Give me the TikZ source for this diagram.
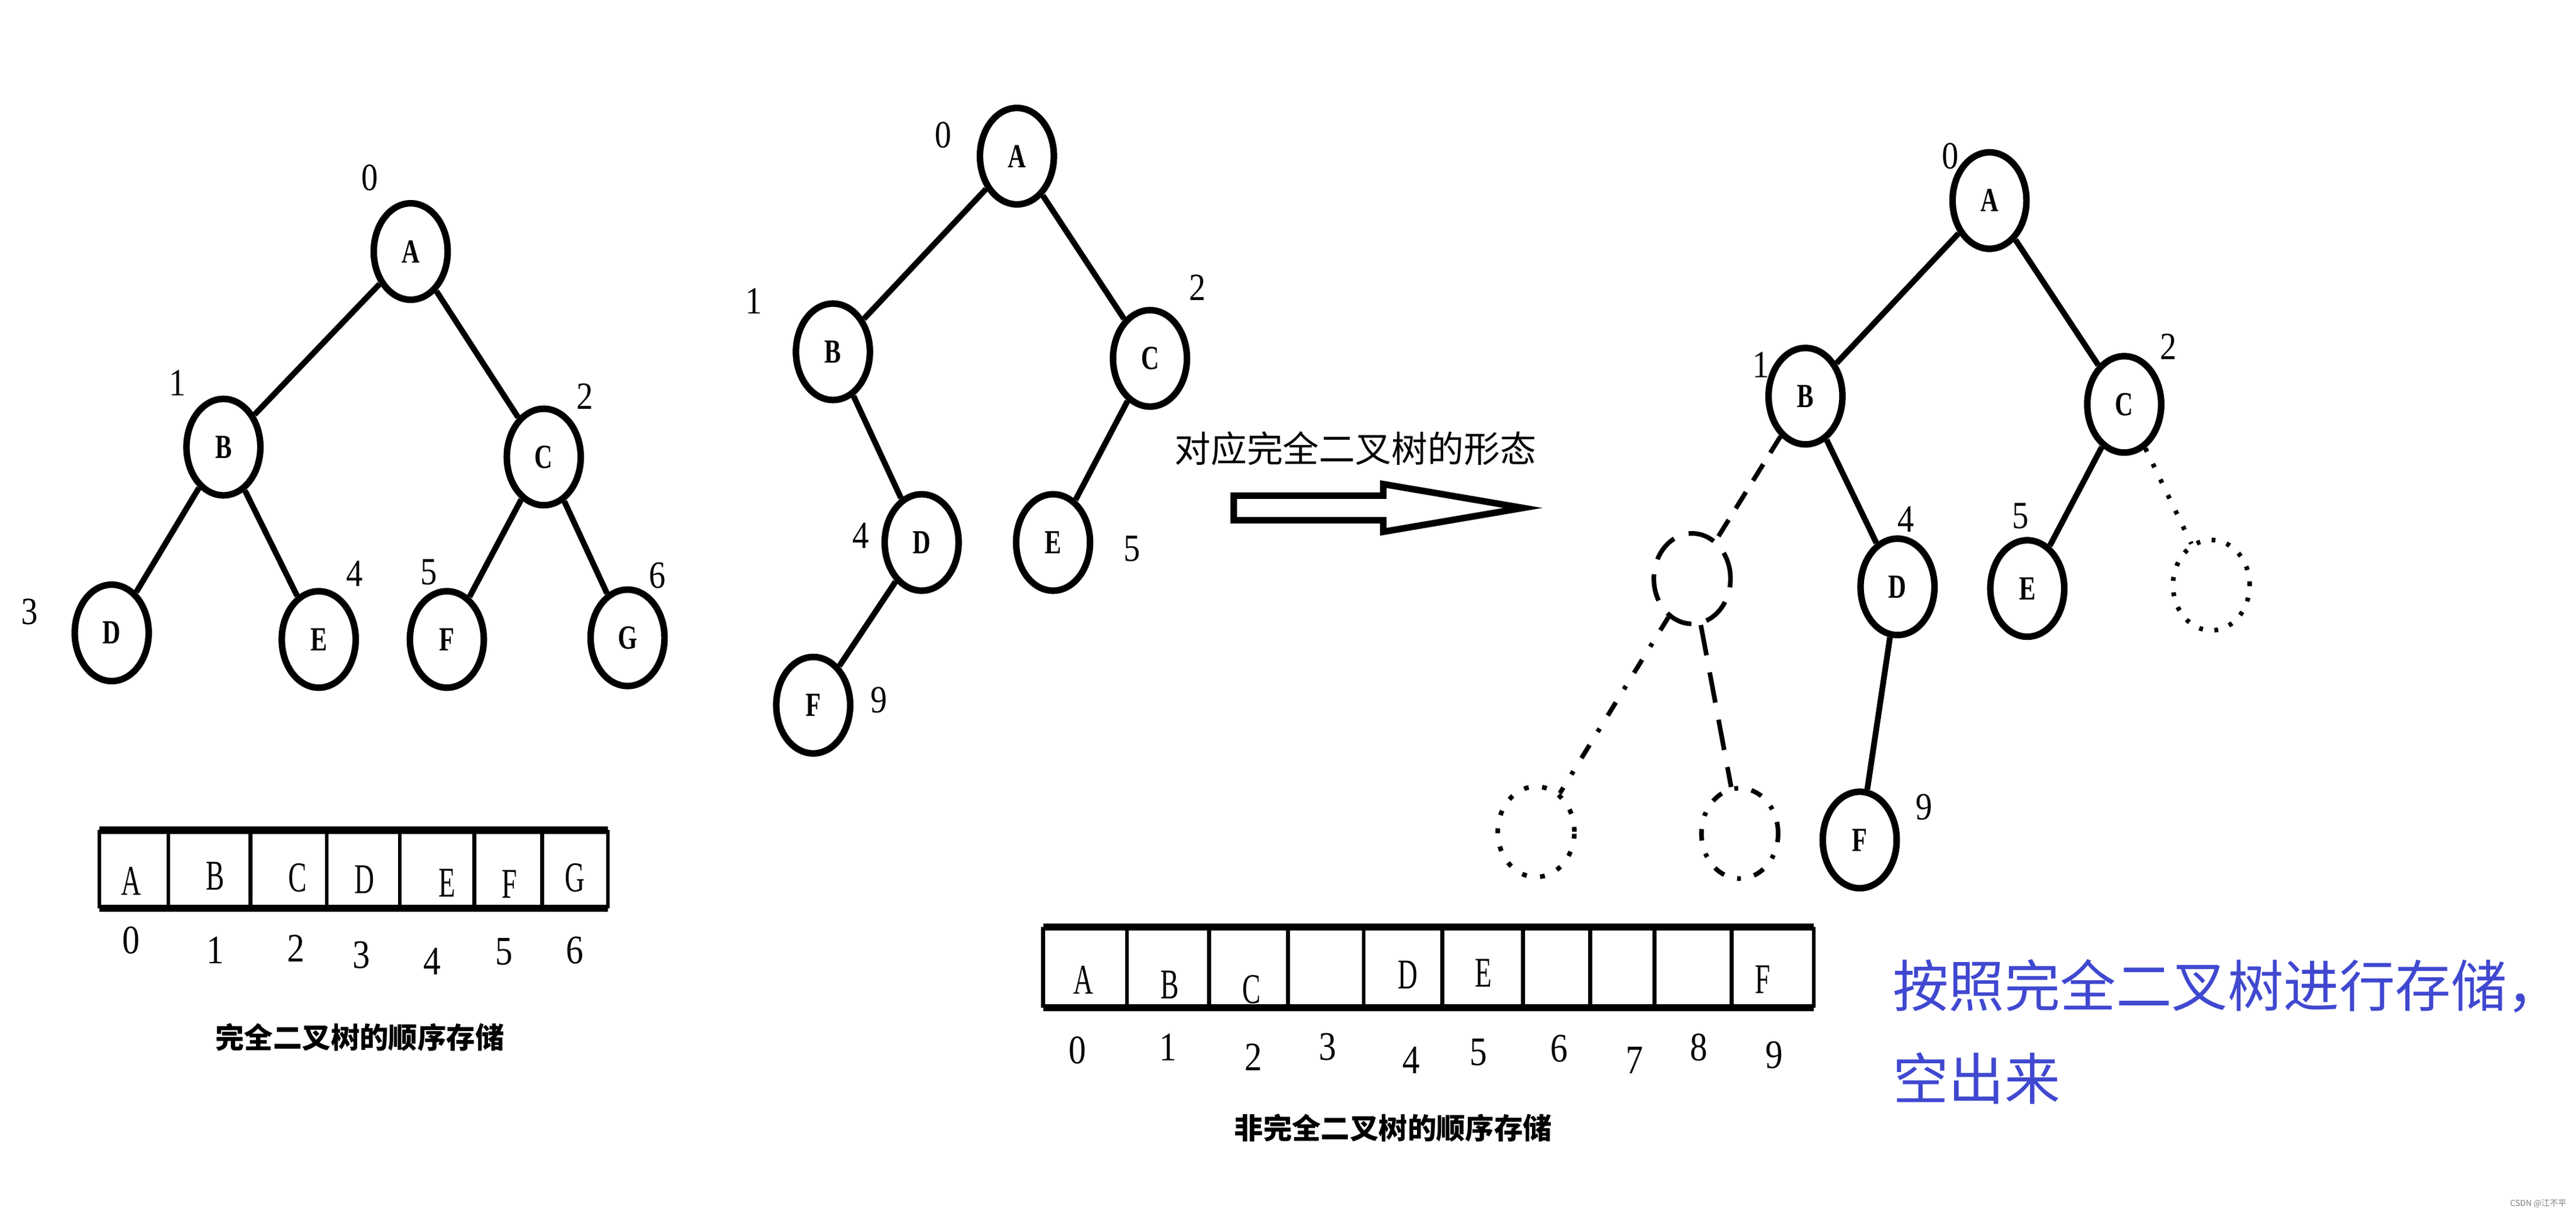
\documentclass[tikz,border=0pt]{standalone}
\usepackage{fontspec}
\usetikzlibrary{shapes.geometric}
\setmainfont{Liberation Serif}
\newfontfamily\letterfont[FakeStretch=0.74]{Liberation Serif}
\newfontfamily\cellfont[FakeStretch=0.65]{Liberation Serif}
\newfontfamily\digitfont[FakeStretch=0.86]{Liberation Serif}
\newfontfamily\cjk{Noto Sans CJK SC}
\definecolor{noteblue}{RGB}{64,72,208}

\begin{document}
\begin{tikzpicture}[x=0.3mm, y=-0.3mm,
    vtx/.style={ellipse, draw, line width=3.4pt, minimum width=13.5mm, minimum height=17.6mm, inner sep=0pt, font=\letterfont\bfseries\fontsize{17.5}{20}\selectfont},
    ghost/.style={ellipse, draw, line width=2.4pt, minimum width=14mm, minimum height=16.5mm, inner sep=0pt},
    idx/.style={inner sep=0pt, font=\digitfont\fontsize{20}{22}\selectfont},
    cellchar/.style={inner sep=0pt, font=\cellfont\fontsize{22}{24}\selectfont},
    celldigit/.style={inner sep=0pt, font=\digitfont\fontsize{21}{24}\selectfont},
    link/.style={line width=3pt},
    caption/.style={inner sep=0pt, font=\cjk\bfseries\fontsize{15}{16}\selectfont},
    note/.style={inner sep=0pt, anchor=west, text=noteblue, font=\cjk\fontsize{29}{30}\selectfont}]
  \path[use as bounding box, fill=white] (0,0) rectangle (1568,737.6);

  % 完全二叉树
  \node (lA) at (250,153) [vtx] {A};
  \node (lB) at (136,272) [vtx] {B};
  \node (lC) at (331,278) [vtx] {C};
  \node (lD) at (68,385) [vtx] {D};
  \node (lE) at (194,389) [vtx] {E};
  \node (lF) at (272,389) [vtx] {F};
  \node (lG) at (382,388) [vtx] {G};
  \node (l0) at (225,108) [idx] {0};
  \node (l1) at (108,233) [idx] {1};
  \node (l2) at (356,241) [idx] {2};
  \node (l3) at (18,372) [idx] {3};
  \node (l4) at (216,349) [idx] {4};
  \node (l5) at (261,348) [idx] {5};
  \node (l6) at (400,350) [idx] {6};
  \draw[link] (lA) -- (lB);
  \draw[link] (lA) -- (lC);
  \draw[link] (lB) -- (lD);
  \draw[link] (lB) -- (lE);
  \draw[link] (lC) -- (lF);
  \draw[link] (lC) -- (lG);

  % 顺序存储（完全）
  \draw[line width=3.8pt] (60.5,505) -- (370,505);
  \draw[line width=3.8pt] (60.5,552.5) -- (370,552.5);
  \foreach \x in {60.5,102.5,152.4,198.9,243.4,288.7,330,370}
    \draw[line width=2pt] (\x,505) -- (\x,552.5);
  \foreach \t/\x/\y [count=\i] in {A/80/536,B/131/533,C/181/534,D/222/535,E/272/537,F/310/538,G/350/534}
    \node (p\i) at (\x,\y) [cellchar] {\t};
  \foreach \t/\x/\y in {0/80/572,1/131/578,2/180/577,3/220/581,4/263/585,5/307/579,6/350/578}
    \node (pi\t) at (\x,\y) [celldigit] {\t};
  \node (cap1) at (219,631) [caption] {完全二叉树的顺序存储};

  % 非完全二叉树
  \node (mA) at (619,95) [vtx] {A};
  \node (mB) at (507,214) [vtx] {B};
  \node (mC) at (700,218) [vtx] {C};
  \node (mD) at (561,330) [vtx] {D};
  \node (mE) at (641,330) [vtx] {E};
  \node (mF) at (495,429) [vtx] {F};
  \node (m0) at (574,82) [idx] {0};
  \node (m1) at (459,183) [idx] {1};
  \node (m2) at (729,175) [idx] {2};
  \node (m4) at (524,326) [idx] {4};
  \node (m5) at (689,334) [idx] {5};
  \node (m9) at (535,426) [idx] {9};
  \draw[link] (mA) -- (mB);
  \draw[link] (mA) -- (mC);
  \draw[link] (mB) -- (mD);
  \draw[link] (mC) -- (mE);
  \draw[link] (mD) -- (mF);

  % 箭头
  \node (turn) at (825,273) [inner sep=0pt, font=\cjk\fontsize{18.8}{20}\selectfont] {对应完全二叉树的形态};
  \draw[line width=3.4pt, line join=miter] (751,301.5) -- (842,301.5) -- (842,294.5) -- (927,309)
    -- (842,323.5) -- (842,316.5) -- (751,316.5) -- cycle;

  % 对应的完全二叉树
  \node (rA) at (1211,122) [vtx] {A};
  \node (rB) at (1099,241) [vtx] {B};
  \node (rC) at (1293,246) [vtx] {C};
  \node (g3) at (1030,352) [ghost, dash pattern=on 14pt off 8pt] {};
  \node (rD) at (1155,357) [vtx] {D};
  \node (rE) at (1234,358) [vtx] {E};
  \node (g6) at (1346,356) [ghost, dash pattern=on 2pt off 6pt] {};
  \node (g7) at (935,506) [ghost, dash pattern=on 2.5pt off 7pt] {};
  \node (g8) at (1059,507) [ghost, dash pattern=on 6pt off 7pt on 2pt off 7pt] {};
  \node (rF) at (1132,511) [vtx] {F};
  \node (r0) at (1187,95) [idx] {0};
  \node (r1) at (1072,222) [idx] {1};
  \node (r2) at (1320,211) [idx] {2};
  \node (r4) at (1160,316) [idx] {4};
  \node (r5) at (1230,314) [idx] {5};
  \node (r9) at (1171,491) [idx] {9};
  \draw[link] (rA) -- (rB);
  \draw[link] (rA) -- (rC);
  \draw[link] (rB) -- (rD);
  \draw[link] (rC) -- (rE);
  \draw[link] (rD) -- (rF);
  \draw[line width=2.4pt, dash pattern=on 10pt off 7pt] (rB) -- (g3);
  \draw[line width=2.4pt, dash pattern=on 2pt off 7pt] (rC) -- (g6);
  \draw[line width=2.4pt, dash pattern=on 8pt off 8pt on 2pt off 8pt] (g3) -- (g7);
  \draw[line width=2.4pt, dash pattern=on 16pt off 9pt] (g3) -- (g8);

  % 顺序存储（非完全）
  \draw[line width=3.8pt] (635,564) -- (1104,564);
  \draw[line width=3.8pt] (635,613) -- (1104,613);
  \foreach \x in {635,686,736,784,830,878,927,968,1007,1054,1104}
    \draw[line width=2pt] (\x,564) -- (\x,613);
  \foreach \t/\x/\y [count=\i] in {A/659.5/596,B/712/599,C/762/602,D/857/593,E/903/592,F/1073/596}
    \node (q\i) at (\x,\y) [cellchar] {\t};
  \foreach \t/\x/\y in {0/656/639,1/711/637,2/763/643,3/808/637,4/859/645,5/900/640,6/949/638,7/995/645,8/1034/637,9/1080/642}
    \node (qi\t) at (\x,\y) [celldigit] {\t};
  \node (cap2) at (848,686) [caption] {非完全二叉树的顺序存储};

  % 说明
  \node (n1) at (1152,600) [note] {按照完全二叉树进行存储，};
  \node (n2) at (1152,656) [note] {空出来};
  \node (wm) at (1545,732) [inner sep=0pt, text=gray, font=\cjk\fontsize{4.3}{5}\selectfont] {CSDN @江不平};
\end{tikzpicture}
\end{document}
